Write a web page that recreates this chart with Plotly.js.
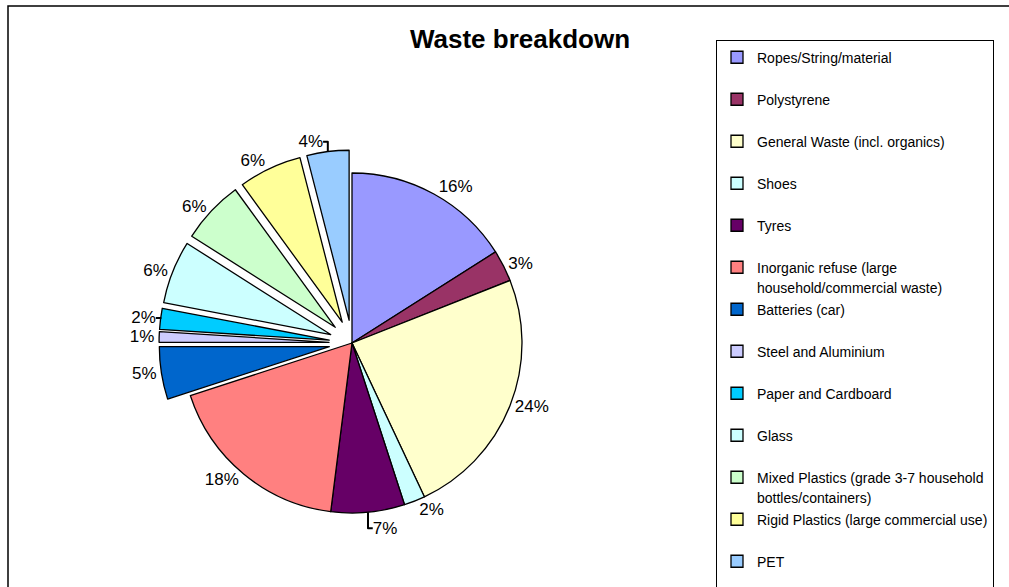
<!DOCTYPE html>
<html>
<head>
<meta charset="utf-8">
<script src="https://cdn.plot.ly/plotly-3.0.1.min.js"></script>
<style>html,body{margin:0;padding:0;background:#fff;}#chart{width:1009px;height:587px;}</style>
</head>
<body>
<div id="chart"></div>
<script>
const categories = [
  "Ropes/String/material",
  "Polystyrene",
  "General Waste (incl. organics)",
  "Shoes",
  "Tyres",
  "Inorganic refuse (large<br>household/commercial waste)",
  "Batteries (car)",
  "Steel and Aluminium",
  "Paper and Cardboard",
  "Glass",
  "Mixed Plastics (grade 3-7 household<br>bottles/containers)",
  "Rigid Plastics (large commercial use)",
  "PET"
];
const percentValues = [16, 3, 24, 2, 7, 18, 5, 1, 2, 6, 6, 6, 4];
const sliceColors = ["#9999FF","#993366","#FFFFCC","#CCFFFF","#660066","#FF8080","#0066CC","#CCCCFF","#00CCFF","#CCFFFF","#CCFFCC","#FFFF99","#99CCFF"];
const pulledOut = [0, 0, 0, 0, 0, 0, 1, 1, 1, 1, 1, 1, 1];

const W = 1009, H = 587;
const r = 170, pullAmt = 0.135;
const cx = 352, cy = 343;
const half = r * (1 + pullAmt);

const wrapSmall = s => s.split("<br>").map(p => '<span style="font-size:14px">' + p + '</span>').join("<br>");
const legendLabels = categories.map(c => c.indexOf("<br>") >= 0 ? wrapSmall(c) : wrapSmall(c) + "<br> ");

const trace = {
  type: "pie",
  labels: legendLabels,
  values: percentValues,
  sort: false,
  direction: "clockwise",
  rotation: 0,
  pull: pulledOut.map(p => p ? pullAmt : 0),
  marker: {colors: sliceColors, line: {color: "#000000", width: 1.3}},
  textinfo: "percent",
  texttemplate: "%{percent:.0%}",
  textposition: "outside",
  outsidetextfont: {family: "Liberation Sans, Arial, sans-serif", size: 17, color: "#000000"},
  hoverinfo: "skip",
  domain: {x: [(cx - half) / W, (cx + half) / W], y: [1 - (cy + half) / H, 1 - (cy - half) / H]},
  automargin: false
};

const layout = {
  width: W, height: H,
  margin: {l: 0, r: 0, t: 0, b: 0, autoexpand: false},
  paper_bgcolor: "#ffffff",
  font: {family: "Liberation Sans, Arial, sans-serif", color: "#000000"},
  title: {text: "<b>Waste breakdown</b>", x: 520 / W, xanchor: "center", y: 1 - 39 / H, yanchor: "middle",
          font: {family: "Liberation Sans, Arial, sans-serif", size: 26, color: "#000000"}},
  showlegend: true,
  legend: {x: 716 / W, xanchor: "left", y: 1 - 40 / H, yanchor: "top",
           bordercolor: "#000000", borderwidth: 1, bgcolor: "#ffffff",
           font: {family: "Liberation Sans, Arial, sans-serif", size: 15, color: "#000000"},
           valign: "top"},
  shapes: [
    {type: "rect", xref: "paper", yref: "paper", x0: 8 / W, x1: 1.05, y0: -0.05, y1: 1 - 6 / H,
     line: {color: "#000000", width: 1.5}, fillcolor: "rgba(0,0,0,0)", layer: "below"}
  ]
};

Plotly.newPlot("chart", [trace], layout, {displayModeBar: false, staticPlot: true});
</script>
</body>
</html>
